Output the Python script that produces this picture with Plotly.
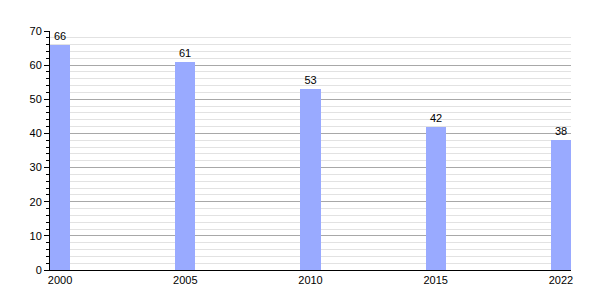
import plotly.graph_objects as go

years = ["2000", "2005", "2010", "2015", "2022"]
values = [66, 61, 53, 42, 38]
y_ticks = [0, 10, 20, 30, 40, 50, 60, 70]

fig = go.Figure(go.Bar(
    x=years, y=values, width=0.16,
    marker=dict(color="#99aaff", line=dict(width=0)),
    text=[str(v) for v in values], textposition="outside",
    textfont=dict(family="Liberation Sans, Arial", size=11, color="black"),
    cliponaxis=False,
))

fig.update_layout(
    width=600, height=300,
    margin=dict(l=50, r=29, t=31, b=30),
    paper_bgcolor="white", plot_bgcolor="white",
    showlegend=False,
    font=dict(family="Liberation Sans, Arial", size=11, color="black"),
    bargap=0,
)
fig.update_xaxes(
    type="category", range=[-0.08, 4.08],
    showline=True, linecolor="black", linewidth=1,
    ticks="", showgrid=False, tickfont=dict(size=11),
    ticklabelstandoff=0,
)
fig.update_yaxes(
    range=[0, 70], tickvals=y_ticks,
    showline=True, linecolor="black", linewidth=1,
    ticks="outside", ticklen=5, tickcolor="black",
    showgrid=True, gridcolor="#a8a8a8", gridwidth=1,
    zeroline=False,
    minor=dict(dtick=2, showgrid=True, gridcolor="#e2e2e2", gridwidth=1,
               ticks="outside", ticklen=3, tickcolor="black"),
    tickfont=dict(size=11),
)

fig.write_html("out.html")
